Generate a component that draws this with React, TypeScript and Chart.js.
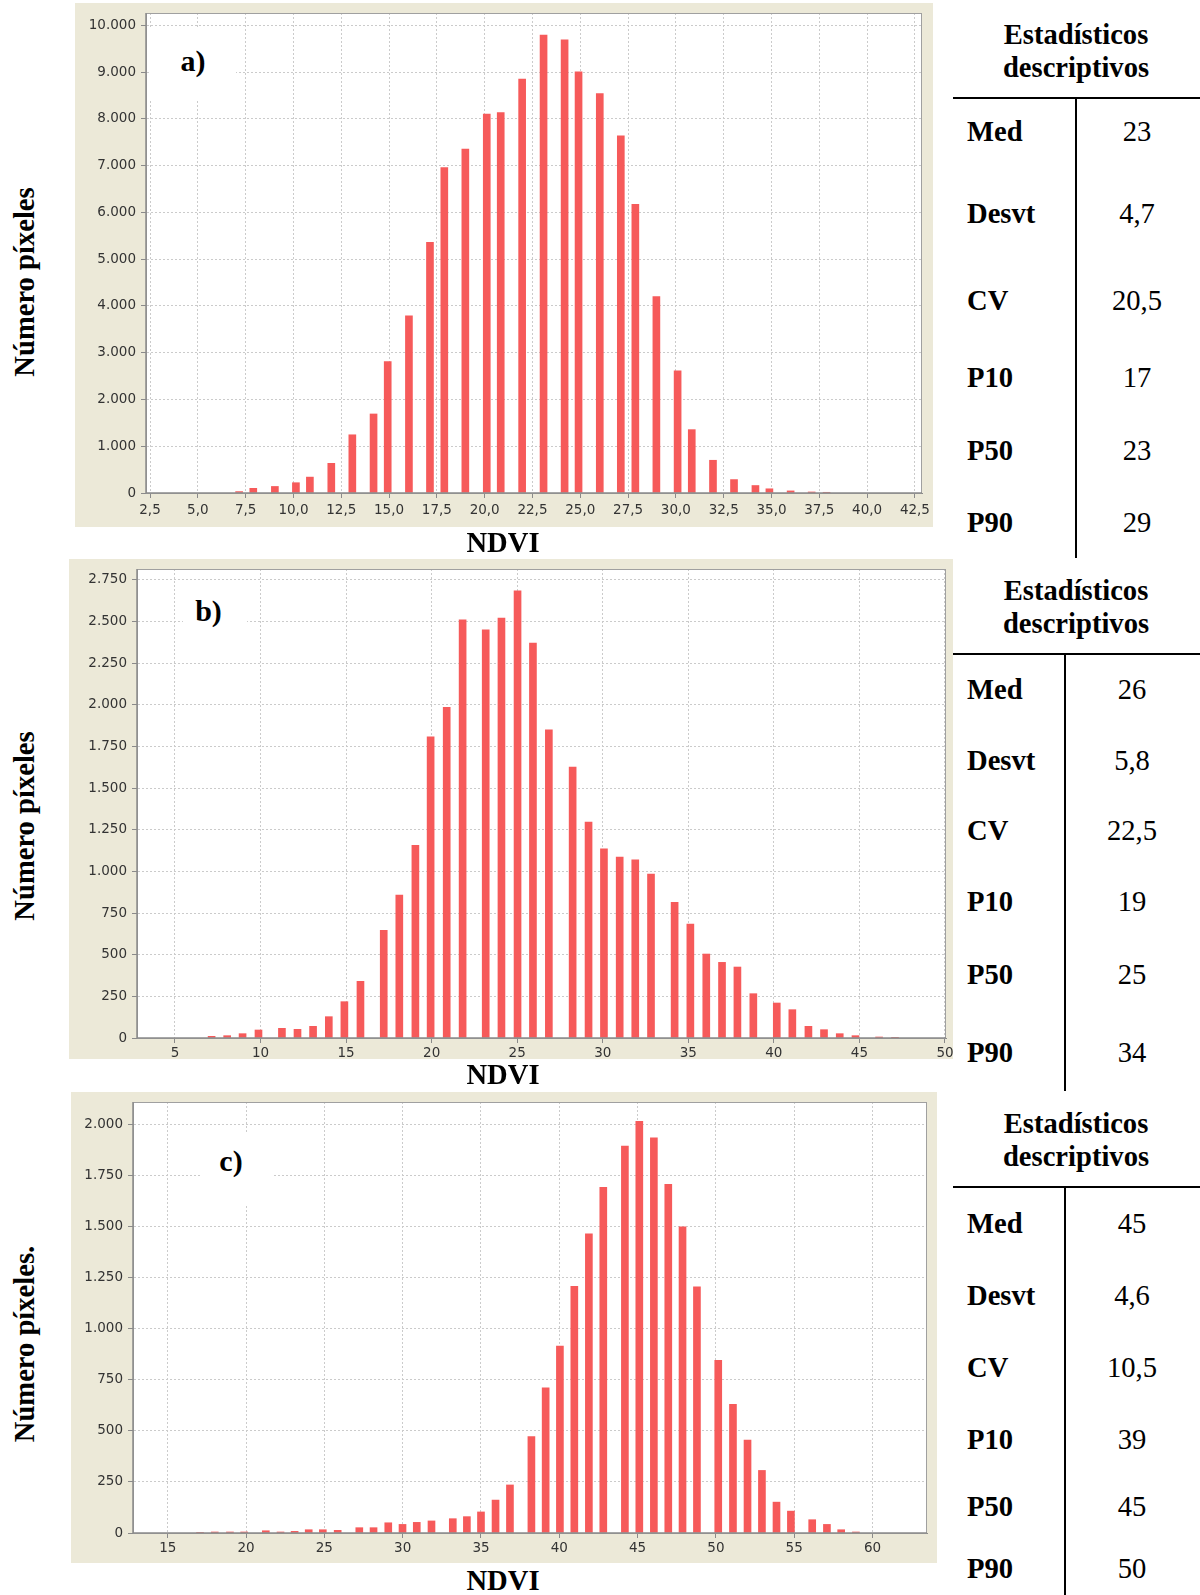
import React, { useEffect, useRef } from 'react';
import { Chart, registerables } from 'chart.js';

Chart.register(...registerables);

// ---------- DATA ----------
// Panel a)
const ndviA = [7.16, 7.9, 9.03, 10.13, 10.86, 11.98, 13.08, 14.19, 14.93, 16.04, 17.14, 17.89, 18.99, 20.11, 20.84, 21.96, 23.08, 24.18, 24.91, 26.02, 27.12, 27.88, 28.98, 30.09, 30.83, 31.94, 33.04, 34.16, 34.89, 36.0, 37.1, 37.88];
const pixelsA = [30, 100, 140, 220, 340, 635, 1245, 1690, 2810, 3790, 5360, 6960, 7355, 8105, 8135, 8850, 9795, 9690, 9005, 8540, 7640, 6175, 4200, 2610, 1355, 700, 287, 160, 90, 45, 22, 15];
const xTicksA = [2.5, 5, 7.5, 10, 12.5, 15, 17.5, 20, 22.5, 25, 27.5, 30, 32.5, 35, 37.5, 40, 42.5];
const yTicksA = [0, 1000, 2000, 3000, 4000, 5000, 6000, 7000, 8000, 9000, 10000];

// Panel b)
const ndviB = [7.14, 8.05, 8.95, 9.88, 11.25, 12.16, 13.07, 13.99, 14.9, 15.84, 17.2, 18.11, 19.05, 19.94, 20.88, 21.81, 23.16, 24.08, 25.02, 25.92, 26.85, 28.24, 29.17, 30.07, 30.99, 31.9, 32.82, 34.2, 35.12, 36.05, 36.97, 37.87, 38.8, 40.17, 41.08, 42.02, 42.93, 43.85, 44.77, 46.15, 47.08];
const pixelsB = [10, 14, 26, 48, 58, 52, 70, 128, 218, 340, 646, 858, 1156, 1808, 1984, 2510, 2450, 2520, 2684, 2370, 1850, 1626, 1296, 1136, 1086, 1070, 984, 814, 684, 504, 454, 426, 266, 210, 170, 70, 50, 26, 14, 6, 4];
const xTicksB = [5, 10, 15, 20, 25, 30, 35, 40, 45, 50];
const yTicksB = [0, 250, 500, 750, 1000, 1250, 1500, 1750, 2000, 2250, 2500, 2750];

// Panel c)
const ndviC = [17.06, 18.0, 18.97, 19.88, 21.26, 22.2, 23.1, 24.0, 24.9, 25.85, 27.23, 28.14, 29.08, 29.99, 30.9, 31.84, 33.2, 34.1, 35.0, 35.93, 36.85, 38.22, 39.13, 40.04, 40.96, 41.89, 42.81, 44.19, 45.11, 46.04, 46.96, 47.87, 48.79, 50.15, 51.09, 52.02, 52.94, 53.87, 54.79, 56.15, 57.09, 58.0, 58.94];
const pixelsC = [3, 5, 5, 5, 11, 5, 8, 16, 16, 13, 26, 26, 50, 42, 52, 59, 70, 80, 103, 161, 235, 471, 710, 914, 1207, 1463, 1691, 1893, 2013, 1933, 1705, 1497, 1204, 845, 629, 454, 306, 151, 107, 65, 42, 16, 5];
const xTicksC = [15, 20, 25, 30, 35, 40, 45, 50, 55, 60];
const yTicksC = [0, 250, 500, 750, 1000, 1250, 1500, 1750, 2000];

// Tables
const statHeader = ['Estadísticos', 'descriptivos'];
const statLabels = ['Med', 'Desvt', 'CV', 'P10', 'P50', 'P90'];
const statsA = ['23', '4,7', '20,5', '17', '23', '29'];
const statsB = ['26', '5,8', '22,5', '19', '25', '34'];
const statsC = ['45', '4,6', '10,5', '39', '45', '50'];
const panelLabels = ['a)', 'b)', 'c)'];
const xTitle = 'NDVI';
const yTitles = ['Número píxeles', 'Número píxeles', 'Número píxeles.'];

// ---------- STYLE ----------
const BEIGE = '#ECE9D8';
const BAR = '#F65A5A';
const GRID = '#CBCBCB';
const AXIS = '#8A8A8A';
const TICK_FONT = { family: '"DejaVu Sans", sans-serif', size: 13.5 };
const TICK_COLOR = '#333333';
const SERIF = '"Liberation Serif", "Times New Roman", serif';

function fmt(v: number, dec: number): string {
  const s = v.toFixed(dec);
  const [ip, dp] = s.split('.');
  const withSep = ip.replace(/\B(?=(\d{3})+(?!\d))/g, '.');
  return dp !== undefined ? withSep + ',' + dp : withSep;
}

type Panel = {
  xs: number[]; ys: number[]; xTicks: number[]; yTicks: number[]; xDec: number;
  left: number; top: number; width: number; height: number;
  yAxisW: number; xAxisH: number; padTop: number; padRight: number;
  xMin: number; xMax: number; yMax: number; xLabelPad: number;
};

const panels: Panel[] = [
  { xs: ndviA, ys: pixelsA, xTicks: xTicksA, yTicks: yTicksA, xDec: 1,
    left: 75, top: 3, width: 858, height: 524, yAxisW: 71, xAxisH: 34, padTop: 10, padRight: 11,
    xMin: 2.29, xMax: 42.87, yMax: 10265, xLabelPad: 4 },
  { xs: ndviB, ys: pixelsB, xTicks: xTicksB, yTicks: yTicksB, xDec: 0,
    left: 69, top: 559, width: 884, height: 500, yAxisW: 68, xAxisH: 21, padTop: 10, padRight: 7,
    xMin: 2.78, xMax: 50.06, yMax: 2815, xLabelPad: 2.5 },
  { xs: ndviC, ys: pixelsC, xTicks: xTicksC, yTicks: yTicksC, xDec: 0,
    left: 71, top: 1092, width: 866, height: 471, yAxisW: 62, xAxisH: 30, padTop: 10, padRight: 10,
    xMin: 12.78, xMax: 63.48, yMax: 2108, xLabelPad: 2 },
];

const framePlugin = {
  id: 'frame',
  beforeDraw(chart: any) {
    const { ctx, chartArea: a } = chart;
    ctx.save();
    ctx.fillStyle = BEIGE;
    ctx.fillRect(0, 0, chart.width, chart.height);
    ctx.fillStyle = '#FFFFFF';
    ctx.fillRect(a.left, a.top, a.right - a.left, a.bottom - a.top);
    ctx.restore();
  },
  afterDraw(chart: any) {
    const { ctx, chartArea: a } = chart;
    ctx.save();
    ctx.strokeStyle = '#A0A0A0';
    ctx.lineWidth = 1;
    ctx.strokeRect(a.left + 0.5, a.top + 0.5, a.right - a.left - 1, a.bottom - a.top);
    ctx.strokeStyle = AXIS;
    ctx.lineWidth = 1.5;
    ctx.beginPath();
    ctx.moveTo(a.left, a.top);
    ctx.lineTo(a.left, a.bottom);
    ctx.lineTo(a.right, a.bottom);
    ctx.stroke();
    ctx.restore();
  },
};

function Histogram({ p }: { p: Panel }) {
  const ref = useRef<HTMLCanvasElement>(null);
  useEffect(() => {
    if (!ref.current) return;
    const chart = new Chart(ref.current, {
      type: 'bar',
      data: {
        datasets: [{
          data: p.xs.map((x, i) => ({ x, y: p.ys[i] })) as any,
          backgroundColor: BAR,
          borderWidth: 0,
          barThickness: 7,
        }],
      },
      options: {
        animation: false,
        responsive: false,
        devicePixelRatio: 1,
        layout: { padding: { top: p.padTop, right: p.padRight, left: 0, bottom: 0 } },
        plugins: { legend: { display: false }, tooltip: { enabled: false } },
        scales: {
          x: {
            type: 'linear', min: p.xMin, max: p.xMax, offset: false,
            grid: { color: GRID, offset: false, drawTicks: true, tickLength: 5, tickColor: AXIS, lineWidth: 1 },
            border: { color: AXIS, width: 1, dash: [2, 2] },
            ticks: { autoSkip: false, maxRotation: 0, minRotation: 0, padding: p.xLabelPad, font: TICK_FONT, color: TICK_COLOR,
              callback: (v: any) => fmt(Number(v), p.xDec) },
            afterBuildTicks: (s: any) => { s.ticks = p.xTicks.map((value) => ({ value })); },
            afterFit: (s: any) => { s.height = p.xAxisH; s.paddingLeft = 0; s.paddingRight = 0; },
          },
          y: {
            type: 'linear', min: 0, max: p.yMax,
            grid: { color: GRID, drawTicks: true, tickLength: 5, tickColor: AXIS, lineWidth: 1 },
            border: { color: AXIS, width: 1, dash: [2, 2] },
            ticks: { autoSkip: false, padding: 5, font: TICK_FONT, color: TICK_COLOR,
              callback: (v: any) => fmt(Number(v), 0) },
            afterBuildTicks: (s: any) => { s.ticks = p.yTicks.map((value) => ({ value })); },
            afterFit: (s: any) => { s.width = p.yAxisW; s.paddingTop = 0; s.paddingBottom = 0; },
          },
        },
      } as any,
      plugins: [framePlugin],
    });
    return () => chart.destroy();
  }, [p]);
  return (
    <canvas ref={ref} width={p.width} height={p.height}
      style={{ position: 'absolute', left: p.left, top: p.top, width: p.width, height: p.height }} />
  );
}

const T = ({ x, y, size = 28.6, bold = true, align = 'center', children, rot = false }: any) => (
  <div style={{
    position: 'absolute', left: x, top: y, whiteSpace: 'nowrap', fontFamily: SERIF, fontSize: size,
    fontWeight: bold ? 700 : 400, lineHeight: 1, color: '#000',
    transform: `translate(${align === 'center' ? '-50%' : '0'}, -50%)${rot ? ' rotate(-90deg)' : ''}`,
    transformOrigin: align === 'center' ? '50% 50%' : '0 50%',
  }}>{children}</div>
);

const labelBoxes = [
  { box: [150, 28, 86, 72], tx: 193, ty: 61 },
  { box: [183, 585, 64, 58], tx: 208.5, ty: 611 },
  { box: [200, 1132, 72, 73], tx: 231, ty: 1161 },
];
const titlePos = [
  { yT: 282, nx: 503, ny: 543 },
  { yT: 826, nx: 503, ny: 1075 },
  { yT: 1344, nx: 503, ny: 1581 },
];
const tables = [
  { vals: statsA, h1: 34.6, h2: 68.1, lineY: 97.6, vX: 1076, vBottom: 558, rows: [132, 213.5, 301, 378, 450.5, 522.7], valX: 1137 },
  { vals: statsB, h1: 590.8, h2: 624.4, lineY: 653.9, vX: 1065, vBottom: 1091, rows: [689.5, 760.6, 830.8, 902, 975.2, 1052.5], valX: 1132 },
  { vals: statsC, h1: 1123.7, h2: 1157.2, lineY: 1186.7, vX: 1065, vBottom: 1595, rows: [1224.3, 1295.5, 1367.7, 1440, 1507, 1569], valX: 1132 },
];

export default function App() {
  return (
    <div style={{ position: 'absolute', left: 0, top: 0, width: 1200, height: 1595, background: '#fff', overflow: 'hidden' }}>
      {panels.map((p, i) => <Histogram key={i} p={p} />)}
      {labelBoxes.map((b, i) => (
        <React.Fragment key={'lb' + i}>
          <div style={{ position: 'absolute', left: b.box[0], top: b.box[1], width: b.box[2], height: b.box[3], background: '#fff' }} />
          <T x={b.tx} y={b.ty} size={30}>{panelLabels[i]}</T>
        </React.Fragment>
      ))}
      {titlePos.map((t, i) => (
        <React.Fragment key={'tt' + i}>
          <T x={25} y={t.yT} rot>{yTitles[i]}</T>
          <T x={t.nx} y={t.ny}>{xTitle}</T>
        </React.Fragment>
      ))}
      {tables.map((t, i) => (
        <React.Fragment key={'tb' + i}>
          <T x={1076} y={t.h1}>{statHeader[0]}</T>
          <T x={1076} y={t.h2}>{statHeader[1]}</T>
          <div style={{ position: 'absolute', left: 953, top: t.lineY - 1, width: 247, height: 2, background: '#000' }} />
          <div style={{ position: 'absolute', left: t.vX - 1, top: t.lineY, width: 2, height: t.vBottom - t.lineY, background: '#000' }} />
          {statLabels.map((l, j) => (
            <React.Fragment key={j}>
              <T x={967} y={t.rows[j]} align="left">{l}</T>
              <T x={t.valX} y={t.rows[j]} bold={false}>{t.vals[j]}</T>
            </React.Fragment>
          ))}
        </React.Fragment>
      ))}
    </div>
  );
}
